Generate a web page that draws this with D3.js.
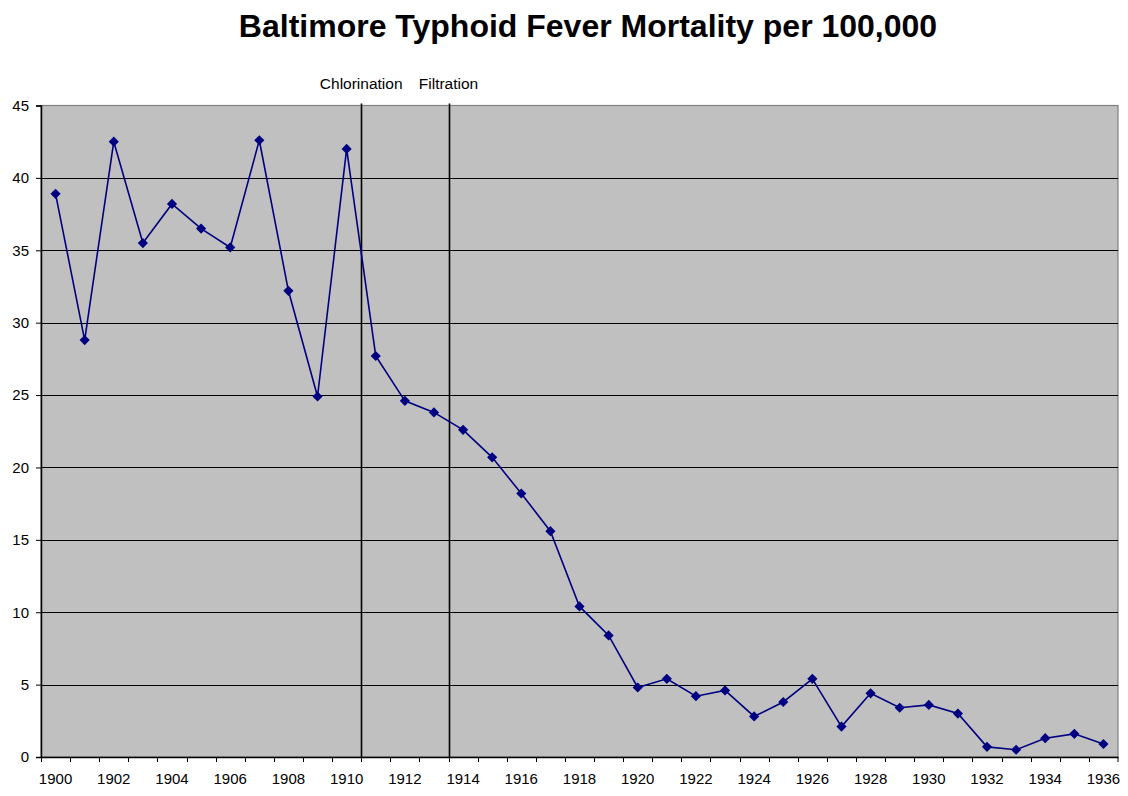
<!DOCTYPE html>
<html>
<head>
<meta charset="utf-8">
<script src="https://cdn.jsdelivr.net/npm/d3@7"></script>
<style>
  body { margin: 0; background: #fff; }
  svg { display: block; font-family: "Liberation Sans", Arial, sans-serif; }
</style>
</head>
<body>
<div id="chart"></div>
<script>
const WIDTH = 1128;
const HEIGHT = 796;
const MARGIN = { top: 105.5, right: 10, bottom: 39, left: 41 };

// years and mortality per 100,000
const years = d3.range(1900, 1937);
const mortality = [
  38.9, 28.8, 42.5, 35.5, 38.2, 36.5, 35.2, 42.6, 32.2, 24.9,
  42.0, 27.7, 24.6, 23.8, 22.6, 20.7, 18.2, 15.6, 10.4, 8.4,
  4.8, 5.4, 4.2, 4.6, 2.8, 3.8, 5.4, 2.1, 4.4, 3.4,
  3.6, 3.0, 0.7, 0.5, 1.3, 1.6, 0.9
];
const yTicks = [0, 5, 10, 15, 20, 25, 30, 35, 40, 45];

// water treatment events, drawn at the start of the given year's band
const eventNames = ['Chlorination', 'Filtration'];
const eventYears = [1911, 1914];

const data = years.map((y, i) => ({ year: y, value: mortality[i] }));

const svg = d3.select('#chart')
  .append('svg')
  .attr('width', WIDTH)
  .attr('height', HEIGHT);

const x = d3.scaleBand()
  .domain(years)
  .range([MARGIN.left, WIDTH - MARGIN.right])
  .padding(0);

const y = d3.scaleLinear()
  .domain([0, 45])
  .range([HEIGHT - MARGIN.bottom, MARGIN.top]);

const cx = d => x(d) + x.bandwidth() / 2;

// plot background
svg.append('rect')
  .attr('x', MARGIN.left)
  .attr('y', MARGIN.top)
  .attr('width', WIDTH - MARGIN.right - MARGIN.left)
  .attr('height', y(0) - MARGIN.top)
  .attr('fill', '#c0c0c0')
  .attr('stroke', '#808080')
  .attr('stroke-width', 1.2);

// gridlines
svg.append('g')
  .selectAll('line')
  .data(yTicks.slice(1, -1))
  .enter()
  .append('line')
  .attr('x1', MARGIN.left)
  .attr('x2', WIDTH - MARGIN.right)
  .attr('y1', d => Math.round(y(d)) + 0.5)
  .attr('y2', d => Math.round(y(d)) + 0.5)
  .attr('stroke', '#000')
  .attr('stroke-width', 1);

// event lines and labels
const ev = svg.append('g');
ev.selectAll('line')
  .data(eventYears)
  .enter()
  .append('line')
  .attr('x1', d => Math.round(x(d)) + 0.5)
  .attr('x2', d => Math.round(x(d)) + 0.5)
  .attr('y1', MARGIN.top - 2)
  .attr('y2', y(0))
  .attr('stroke', '#000')
  .attr('stroke-width', 1.6);

ev.selectAll('text')
  .data(eventYears)
  .enter()
  .append('text')
  .attr('x', d => x(d))
  .attr('y', 89)
  .attr('text-anchor', 'middle')
  .style('font-size', '15.5px')
  .attr('fill', '#000')
  .text((d, i) => eventNames[i]);

// x axis
const xAxis = d3.axisBottom(x)
  .tickValues(years.filter(d => d % 2 === 0))
  .tickSize(0)
  .tickPadding(16);
const gx = svg.append('g')
  .attr('transform', 'translate(0,' + y(0) + ')')
  .call(xAxis);
gx.select('.domain').attr('stroke', '#000').attr('stroke-width', 1.5);
gx.selectAll('text').style('font-size', '15px').attr('fill', '#000');

// tick marks at category boundaries
svg.append('g')
  .selectAll('line')
  .data(years.concat([1937]))
  .enter()
  .append('line')
  .attr('x1', d => d === 1937 ? WIDTH - MARGIN.right : Math.round(x(d)) + 0.5)
  .attr('x2', d => d === 1937 ? WIDTH - MARGIN.right : Math.round(x(d)) + 0.5)
  .attr('y1', y(0))
  .attr('y2', y(0) + 5)
  .attr('stroke', '#000')
  .attr('stroke-width', 1);

// y axis
const yAxis = d3.axisLeft(y)
  .tickValues(yTicks)
  .tickSize(5)
  .tickPadding(7);
const gy = svg.append('g')
  .attr('transform', 'translate(' + MARGIN.left + ',0)')
  .call(yAxis);
gy.select('.domain').attr('stroke', '#000').attr('stroke-width', 1.5);
gy.selectAll('text').style('font-size', '15px').attr('fill', '#000');

// series line
const line = d3.line()
  .x(d => cx(d.year))
  .y(d => y(d.value));

svg.append('path')
  .datum(data)
  .attr('d', line)
  .attr('fill', 'none')
  .attr('stroke', '#000080')
  .attr('stroke-width', 1.6);

// diamond markers
svg.append('g')
  .selectAll('path')
  .data(data)
  .enter()
  .append('path')
  .attr('d', d3.symbol().type(d3.symbolDiamond2).size(66))
  .attr('transform', d => 'translate(' + cx(d.year) + ',' + y(d.value) + ')')
  .attr('fill', '#000080');

// title
svg.append('text')
  .attr('x', 588)
  .attr('y', 37)
  .attr('text-anchor', 'middle')
  .style('font-size', '32px')
  .style('font-weight', 'bold')
  .text('Baltimore Typhoid Fever Mortality per 100,000');
</script>
</body>
</html>
